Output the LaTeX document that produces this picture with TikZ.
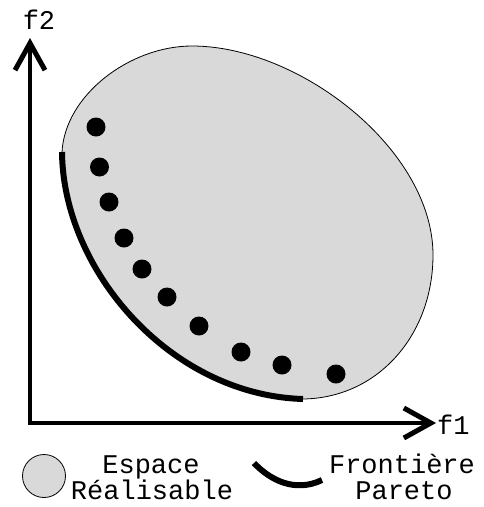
\documentclass[tikz,border=0pt]{standalone}
\usepackage{fontspec}
\setmainfont{Liberation Mono}
\usetikzlibrary{arrows.meta}
\definecolor{feasgray}{RGB}{217,217,217}
\tikzset{
  axis/.style={line width=4pt, line join=miter,
    {Straight Barb[length=27pt,width=30pt,line width=5pt]}-{Straight Barb[length=27pt,width=30pt,line width=5pt]}},
  region/.style={fill=feasgray, draw=black, line width=0.8pt},
  pareto/.style={line width=6pt},
  dot/.style={circle, fill=black, inner sep=0pt, minimum size=19pt},
  lbl/.style={font=\fontsize{27}{27}\selectfont, inner sep=0pt, align=center},
}
\begin{document}
\begin{tikzpicture}[x=1pt,y=-1pt]
\useasboundingbox (0,0) rectangle (483,507);
% feasible region
\draw[region] (62,152) .. controls (65,95) and (130,46) .. (192,46)
  .. controls (300,46) and (433,150) .. (433,255)
  .. controls (433,335) and (378,398) .. (303,399)
  .. controls (170,395) and (63,270) .. (62,152) -- cycle;
% pareto front
\coordinate (pA) at (62,152);
\coordinate (pB) at (303,399);
\draw[pareto] (pA) .. controls (63,270) and (170,395) .. (pB);
% points
\foreach \n/\x/\y in {1/96/127,2/99.5/167,3/109/202,4/124/238,5/142/269,6/167/297,7/199/326,8/241/352,9/282/365,10/336/374}
  \node[dot] (d\n) at (\x,\y) {};
% axes
\coordinate (O) at (30,423);
\coordinate (ytip) at (30,38);
\coordinate (xtip) at (436,423);
\draw[axis] (ytip) -- (O) -- (xtip);
\node[lbl, anchor=base] (f2) at (39,29) {f2};
\node[lbl, anchor=base west] (f1) at (437,434) {f1};
% legend
\node[circle, fill=feasgray, draw=black, line width=0.8pt, minimum size=43pt, inner sep=0pt] (lc) at (44,476) {};
\node[lbl, anchor=base] (l1) at (151,473) {Espace};
\node[lbl, anchor=base] (l2) at (152,499) {Réalisable};
\coordinate (lpA) at (254,463);
\coordinate (lpB) at (322,480);
\draw[pareto] (lpA) .. controls (270,480) and (295,493) .. (lpB);
\node[lbl, anchor=base] (l3) at (402,473) {Frontière};
\node[lbl, anchor=base] (l4) at (404,499) {Pareto};
\end{tikzpicture}
\end{document}
